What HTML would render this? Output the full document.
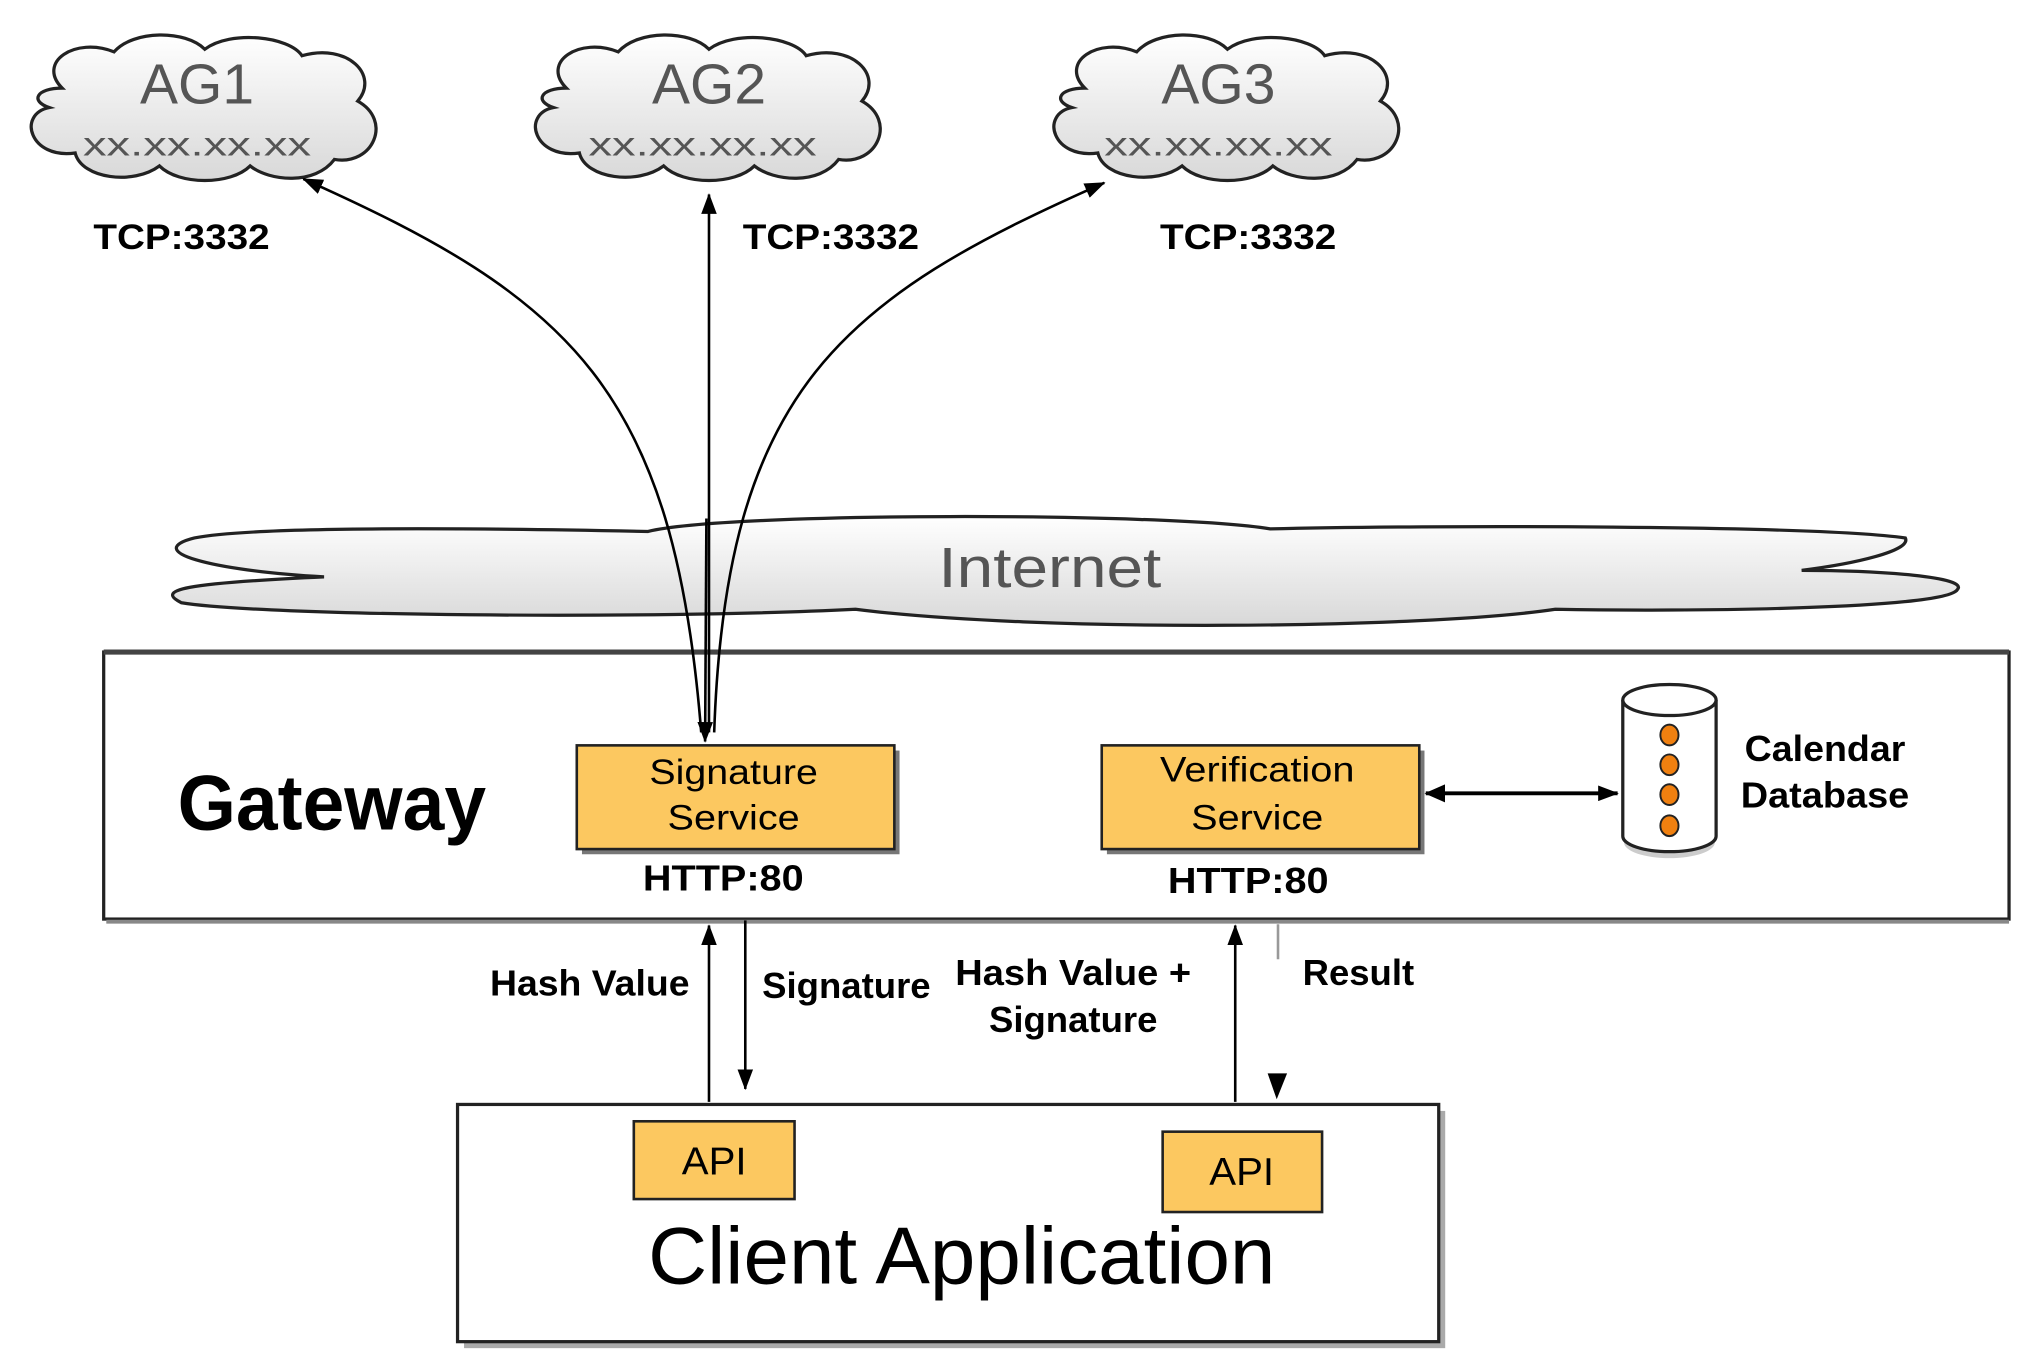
<!DOCTYPE html>
<html><head><meta charset="utf-8"><style>html,body{margin:0;padding:0;background:#fff}svg{display:block}</style></head>
<body>
<svg width="2022" height="1365" viewBox="0 0 1560 1053" preserveAspectRatio="none" xmlns="http://www.w3.org/2000/svg" font-family="Liberation Sans, sans-serif">
<defs>
<linearGradient id="cg" x1="0" y1="0" x2="0" y2="1"><stop offset="0" stop-color="#ffffff"/><stop offset="1" stop-color="#d8d8d8"/></linearGradient>
<marker id="ah" markerWidth="16" markerHeight="12" refX="15" refY="6" orient="auto" markerUnits="userSpaceOnUse"><path d="M0,0 L16,6 L0,12 Z" fill="#000"/></marker>
<marker id="ahs" markerWidth="16" markerHeight="14" refX="15" refY="7" orient="auto-start-reverse" markerUnits="userSpaceOnUse"><path d="M0,0 L16,7 L0,14 Z" fill="#000"/></marker>
<path id="cloud" d="M30,40 C10,20 40,0 70,12 C85,-5 125,-5 140,10 C160,-5 205,0 215,15 C250,5 275,30 258,50 C285,65 270,100 240,95 C225,115 190,112 175,100 C160,115 120,115 105,100 C85,115 45,110 40,90 C5,95 -5,60 20,55 C5,50 10,40 30,40 Z"/>
</defs>
<g fill="url(#cg)" stroke="#222" stroke-width="2.5">
<use href="#cloud" transform="translate(18,28)"/>
<use href="#cloud" transform="translate(407,28)"/>
<use href="#cloud" transform="translate(807,28)"/>
</g>
<g fill="#555" text-anchor="middle">
<text x="152" y="80" font-size="44" textLength="88" lengthAdjust="spacingAndGlyphs">AG1</text><text x="152" y="120" font-size="26" textLength="176" lengthAdjust="spacingAndGlyphs">xx.xx.xx.xx</text>
<text x="547" y="80" font-size="44" textLength="88" lengthAdjust="spacingAndGlyphs">AG2</text><text x="542" y="120" font-size="26" textLength="176" lengthAdjust="spacingAndGlyphs">xx.xx.xx.xx</text>
<text x="940" y="80" font-size="44" textLength="88" lengthAdjust="spacingAndGlyphs">AG3</text><text x="940" y="120" font-size="26" textLength="176" lengthAdjust="spacingAndGlyphs">xx.xx.xx.xx</text>
</g>
<g font-weight="bold" font-size="27" text-anchor="middle" lengthAdjust="spacingAndGlyphs">
<text x="140" y="192" textLength="136" lengthAdjust="spacingAndGlyphs">TCP:3332</text><text x="641" y="192" textLength="136" lengthAdjust="spacingAndGlyphs">TCP:3332</text><text x="963" y="192" textLength="136" lengthAdjust="spacingAndGlyphs">TCP:3332</text>
</g>
<path d="M150,415 C200,405 400,408 500,410 C560,395 900,395 980,408 C1100,405 1400,405 1470,415 C1475,425 1430,435 1390,440 C1450,440 1520,445 1510,455 C1500,470 1300,472 1200,470 C1100,485 800,488 660,470 C500,478 200,475 140,465 C120,455 140,450 250,445 C160,440 110,425 150,415 Z" fill="url(#cg)" stroke="#222" stroke-width="2.5"/>
<text x="810" y="453" font-size="44" fill="#555" text-anchor="middle" textLength="172" lengthAdjust="spacingAndGlyphs">Internet</text>
<rect x="80" y="503" width="1470" height="206" fill="#fff" stroke="#222" stroke-width="2.5"/>
<line x1="80" y1="503" x2="1550" y2="503" stroke="#444" stroke-width="4"/>
<line x1="82" y1="711" x2="1550" y2="711" stroke="#888" stroke-width="3"/>
<text x="256" y="640" font-size="60" font-weight="bold" text-anchor="middle" textLength="238" lengthAdjust="spacingAndGlyphs">Gateway</text>
<g fill="none" stroke="#000" stroke-width="2">
<path d="M541,565 C520,300 440,230 234,138" marker-end="url(#ah)"/>
<path d="M547,565 L547,150" marker-end="url(#ah)"/>
<path d="M551,565 C560,300 650,230 852,141" marker-end="url(#ah)"/>
<path d="M545,400 L544,572" marker-end="url(#ah)"/>
</g>
<rect x="449" y="579" width="245" height="80" fill="#777"/>
<rect x="445" y="575" width="245" height="80" fill="#fcc860" stroke="#222" stroke-width="2"/>
<rect x="854" y="579" width="245" height="80" fill="#777"/>
<rect x="850" y="575" width="245" height="80" fill="#fcc860" stroke="#222" stroke-width="2"/>
<g font-size="27" text-anchor="middle">
<text x="566" y="605" textLength="130" lengthAdjust="spacingAndGlyphs">Signature</text><text x="566" y="640" textLength="102" lengthAdjust="spacingAndGlyphs">Service</text>
<text x="970" y="603" textLength="150" lengthAdjust="spacingAndGlyphs">Verification</text><text x="970" y="640" textLength="102" lengthAdjust="spacingAndGlyphs">Service</text>
</g>
<g font-size="28" font-weight="bold" text-anchor="middle">
<text x="558" y="687" textLength="124" lengthAdjust="spacingAndGlyphs">HTTP:80</text><text x="963" y="689" textLength="124" lengthAdjust="spacingAndGlyphs">HTTP:80</text>
</g>
<line x1="1100" y1="612" x2="1248" y2="612" stroke="#000" stroke-width="3" marker-start="url(#ahs)" marker-end="url(#ah)"/>
<path d="M1253,545 L1253,650 A35,12 0 0 0 1323,650 L1323,545" fill="#ccc"/>
<path d="M1252,540 L1252,645 A36,12 0 0 0 1324,645 L1324,540" fill="#fff" stroke="#222" stroke-width="2.5"/>
<ellipse cx="1288" cy="540" rx="36" ry="12" fill="#fff" stroke="#222" stroke-width="2.5"/>
<g fill="#f08010" stroke="#222" stroke-width="1.5">
<ellipse cx="1288" cy="567" rx="7" ry="8"/><ellipse cx="1288" cy="590" rx="7" ry="8"/><ellipse cx="1288" cy="613" rx="7" ry="8"/><ellipse cx="1288" cy="637" rx="7" ry="8"/>
</g>
<g font-size="28" font-weight="bold" text-anchor="middle">
<text x="1408" y="587" textLength="124" lengthAdjust="spacingAndGlyphs">Calendar</text><text x="1408" y="623" textLength="130" lengthAdjust="spacingAndGlyphs">Database</text>
</g>
<g stroke="#000" stroke-width="2" fill="none">
<line x1="547" y1="850" x2="547" y2="714" marker-end="url(#ah)"/>
<line x1="575" y1="710" x2="575" y2="840" marker-end="url(#ah)"/>
<line x1="953" y1="850" x2="953" y2="714" marker-end="url(#ah)"/>
</g>
<line x1="986" y1="713" x2="986" y2="740" stroke="#999" stroke-width="2"/>
<path d="M978,828 L993,828 L985,848 Z" fill="#000"/>
<g font-size="28" font-weight="bold" text-anchor="middle">
<text x="455" y="768" textLength="154" lengthAdjust="spacingAndGlyphs">Hash Value</text><text x="653" y="770" textLength="130" lengthAdjust="spacingAndGlyphs">Signature</text>
<text x="828" y="760" textLength="182" lengthAdjust="spacingAndGlyphs">Hash Value +</text><text x="828" y="796" textLength="130" lengthAdjust="spacingAndGlyphs">Signature</text>
<text x="1048" y="760" textLength="86" lengthAdjust="spacingAndGlyphs">Result</text>
</g>
<rect x="358" y="857" width="757" height="183" fill="#aaa"/>
<rect x="353" y="852" width="757" height="183" fill="#fff" stroke="#222" stroke-width="2.5"/>
<rect x="489" y="865" width="124" height="60" fill="#fcc860" stroke="#222" stroke-width="2"/>
<rect x="897" y="873" width="123" height="62" fill="#fcc860" stroke="#222" stroke-width="2"/>
<g font-size="30" text-anchor="middle"><text x="551" y="906" textLength="50" lengthAdjust="spacingAndGlyphs">API</text><text x="958" y="914" textLength="50" lengthAdjust="spacingAndGlyphs">API</text></g>
<text x="742" y="990" font-size="62" text-anchor="middle" textLength="484" lengthAdjust="spacingAndGlyphs">Client  Application</text>
</svg>
</body></html>
